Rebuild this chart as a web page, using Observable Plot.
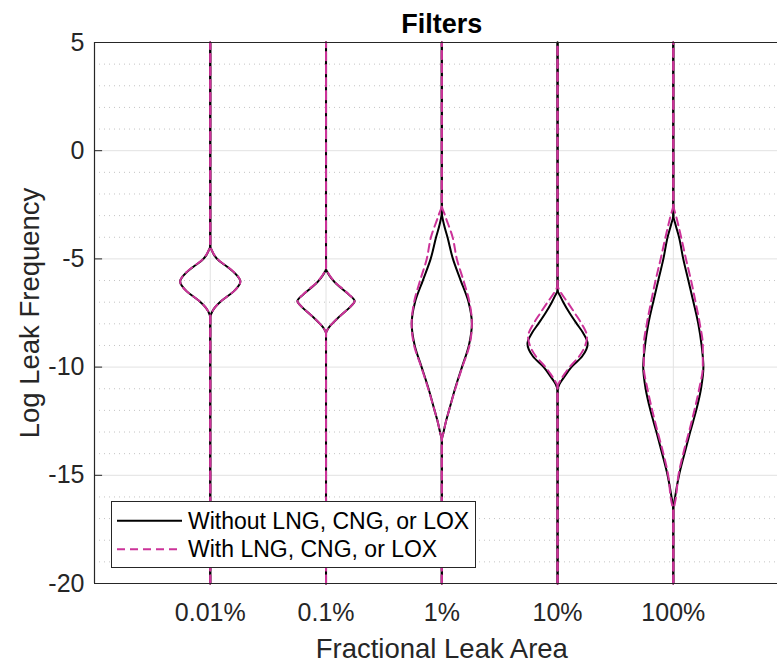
<!DOCTYPE html>
<html>
<head>
<meta charset="utf-8">
<script src="https://cdn.jsdelivr.net/npm/d3@7"></script>
<script src="https://cdn.jsdelivr.net/npm/@observablehq/plot@0.6"></script>
<style>
  html, body { margin: 0; padding: 0; background: #fff; }
  #chart { width: 777px; height: 663px; }
</style>
</head>
<body>
<div id="chart"></div>
<script>
// ---------- data ----------
const title = "Filters";
const xLabel = "Fractional Leak Area";
const yLabel = "Log Leak Frequency";
const categories = ["0.01%", "0.1%", "1%", "10%", "100%"];
const seriesNames = ["Without LNG, CNG, or LOX", "With LNG, CNG, or LOX"];
const yTicks = [-20, -15, -10, -5, 0, 5];
const yTickLabels = ["-20", "-15", "-10", "-5", "0", "5"];
const yMinorTicks = [-19, -18, -17, -16, -14, -13, -12, -11, -9, -8, -7, -6, -4, -3, -2, -1, 1, 2, 3, 4];

// violin profiles: [log leak frequency, relative density (1 = widest)]
// Without LNG, CNG, or LOX
const without001 = [[-7.7,0],[-7.45,0.06],[-7.25,0.15],[-7.0,0.32],[-6.75,0.55],[-6.5,0.78],[-6.05,1.0],[-5.6,0.77],[-5.35,0.55],[-5.1,0.3],[-4.85,0.14],[-4.6,0.05],[-4.4,0]];
const without01  = [[-8.45,0],[-8.2,0.08],[-8.0,0.2],[-7.75,0.38],[-7.5,0.58],[-7.25,0.78],[-6.95,0.95],[-6.65,0.76],[-6.4,0.55],[-6.15,0.34],[-5.9,0.18],[-5.65,0.06],[-5.45,0]];
const without1   = [[-13.4,0],[-13.0,0.06],[-12.5,0.14],[-12.0,0.24],[-11.0,0.44],[-10.0,0.67],[-9.0,0.9],[-8.0,1.0],[-7.0,0.89],[-6.0,0.63],[-5.0,0.37],[-4.0,0.19],[-3.4,0.07],[-2.85,0]];
const without10  = [[-11.1,0],[-10.8,0.06],[-10.5,0.2],[-10.0,0.46],[-9.5,0.82],[-8.92,1.0],[-8.4,0.84],[-8.0,0.64],[-7.5,0.4],[-7.0,0.19],[-6.7,0.08],[-6.45,0]];
const without100 = [[-16.6,0],[-16.0,0.06],[-15.0,0.19],[-14.0,0.37],[-13.0,0.56],[-12.0,0.76],[-11.0,0.92],[-10.0,1.0],[-9.0,0.94],[-8.0,0.83],[-7.0,0.67],[-6.0,0.5],[-5.0,0.33],[-4.0,0.19],[-3.4,0.07],[-3.0,0]];
// With LNG, CNG, or LOX
const with001 = [[-7.7,0],[-7.45,0.06],[-7.25,0.15],[-7.0,0.32],[-6.75,0.55],[-6.5,0.78],[-6.05,1.0],[-5.6,0.78],[-5.35,0.56],[-5.1,0.31],[-4.85,0.15],[-4.6,0.05],[-4.4,0]];
const with01  = [[-8.45,0],[-8.2,0.08],[-8.0,0.2],[-7.75,0.38],[-7.5,0.58],[-7.25,0.78],[-6.95,0.95],[-6.65,0.77],[-6.4,0.56],[-6.15,0.35],[-5.9,0.19],[-5.65,0.07],[-5.45,0]];
const with1   = [[-13.4,0],[-13.0,0.06],[-12.5,0.14],[-12.0,0.24],[-11.0,0.45],[-10.0,0.68],[-9.0,0.92],[-8.0,1.0],[-7.0,0.92],[-6.0,0.72],[-5.0,0.5],[-4.0,0.36],[-3.0,0.11],[-2.5,0]];
const with10  = [[-10.9,0],[-10.6,0.1],[-10.3,0.24],[-10.0,0.4],[-9.5,0.72],[-9.0,0.92],[-8.6,0.98],[-8.0,0.8],[-7.5,0.57],[-7.0,0.33],[-6.6,0.13],[-6.2,0]];
const with100 = [[-16.8,0],[-16.0,0.09],[-15.0,0.17],[-14.0,0.33],[-13.0,0.52],[-12.0,0.7],[-11.0,0.86],[-10.0,0.98],[-9.0,0.98],[-8.0,0.88],[-7.0,0.74],[-6.0,0.59],[-5.0,0.42],[-4.0,0.26],[-3.0,0.09],[-2.5,0]];

const profiles = [
  [without001, without01, without1, without10, without100],
  [with001, with01, with1, with10, with100]
];

// ---------- build table ----------
const halfWidth = 0.26; // widest half-width in category units
const [yMin, yMax] = [yTicks[0], yTicks[yTicks.length - 1]];
const rows = [];
profiles.forEach((list, si) => {
  list.forEach((prof, ci) => {
    const pts = [[yMin, 0], ...prof, [yMax, 0]];
    for (const side of [-1, 1]) {
      for (const [y, w] of pts) {
        rows.push({series: seriesNames[si], key: `${si}-${ci}-${side}`, y, x: ci + 1 + side * w * halfWidth});
      }
    }
  });
});

const black = "#000000";
const magenta = "#cc3399";
const axisColor = "#262626";
const dash = "8,5";
const font = "'Liberation Sans', Arial, Helvetica, sans-serif";

const catPos = categories.map((d, i) => i + 1);

const plot = Plot.plot({
  width: 777,
  height: 663,
  marginLeft: 94,
  marginRight: 0,
  marginTop: 42,
  marginBottom: 80,
  style: {fontFamily: font, fontSize: "25px", color: axisColor, background: "#fff", overflow: "visible"},
  x: {domain: [0, 5.9], label: null},
  y: {domain: [yMin, yMax], label: null},
  marks: [
    Plot.ruleY(yMinorTicks, {stroke: "#c4c4c4", strokeDasharray: "1,4", strokeWidth: 1}),
    Plot.ruleY(yTicks, {stroke: "#e2e2e2", strokeWidth: 1}),
    Plot.ruleX(catPos, {stroke: "#e2e2e2", strokeWidth: 1}),
    Plot.ruleY(yTicks, {x1: 0, x2: 0.07, stroke: axisColor, strokeWidth: 1}),
    Plot.line(rows.filter(d => d.series === seriesNames[0]), {x: "x", y: "y", z: "key", stroke: black, strokeWidth: 2, curve: "monotone-y"}),
    Plot.line(rows.filter(d => d.series === seriesNames[1]), {x: "x", y: "y", z: "key", stroke: magenta, strokeWidth: 2, strokeDasharray: dash, curve: "monotone-y"}),
    Plot.ruleY([yMax], {stroke: axisColor, strokeWidth: 1.2}),
    Plot.ruleY([yMin], {stroke: axisColor, strokeWidth: 1.2}),
    Plot.ruleX([0], {stroke: axisColor, strokeWidth: 1.2}),
    Plot.axisY(yTicks, {tickSize: 0, tickPadding: 10, fontSize: 25, label: null, fill: axisColor, tickFormat: d => yTickLabels[yTicks.indexOf(d)]}),
    Plot.axisX(catPos, {tickSize: 0, tickPadding: 20, fontSize: 25, label: null, fill: axisColor, tickFormat: d => categories[d - 1]}),
    Plot.text([title], {x: () => 3, y: () => yMax, dy: -10, lineAnchor: "bottom", fontWeight: "bold", fontSize: 27, fill: "#000", text: d => d}),
    Plot.text([xLabel], {x: () => 3, y: () => yMin, dy: 74, lineAnchor: "bottom", fontSize: 27.5, fill: axisColor, text: d => d}),
    Plot.text([yLabel], {frameAnchor: "left", dx: -64, rotate: -90, textAnchor: "middle", lineAnchor: "middle", fontSize: 27.5, fill: axisColor, text: d => d})
  ]
});

// ---------- legend ----------
const svg = d3.select(plot);
const lg = svg.append("g").attr("font-family", font).attr("font-size", 23).attr("fill", "#000").attr("text-anchor", "start");
lg.append("rect").attr("x", 111.5).attr("y", 501.5).attr("width", 364).attr("height", 66)
  .attr("fill", "#fff").attr("stroke", axisColor).attr("stroke-width", 1);
const rowsY = [520.7, 549.3];
const legStyles = [{stroke: black, dash: null}, {stroke: magenta, dash: dash}];
seriesNames.forEach((name, i) => {
  const ln = lg.append("line").attr("x1", 117).attr("x2", 182).attr("y1", rowsY[i]).attr("y2", rowsY[i])
    .attr("stroke", legStyles[i].stroke).attr("stroke-width", 2);
  if (legStyles[i].dash) ln.attr("stroke-dasharray", legStyles[i].dash);
  lg.append("text").attr("x", 188).attr("y", rowsY[i]).attr("dy", "0.35em").attr("text-anchor", "start").text(name);
});

document.getElementById("chart").appendChild(plot);
</script>
</body>
</html>
